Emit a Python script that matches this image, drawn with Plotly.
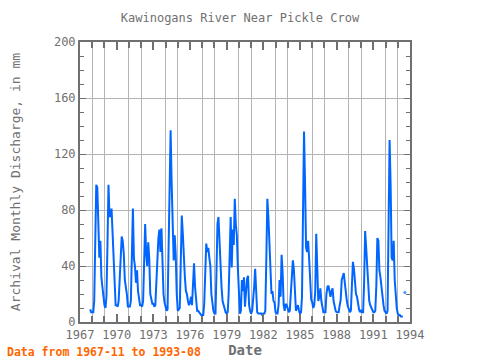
import plotly.graph_objects as go

# Monthly discharge (mm)
start_year = 1967
start_month = 11
v1967 = [9, 7]
v1968 = [7, 7, 15, 61, 98, 96, 75, 46, 58, 32, 25, 18]
v1969 = [12, 10, 18, 55, 98, 75, 76, 81, 61, 45, 22, 12]
v1970 = [12, 11, 15, 30, 51, 61, 58, 49, 30, 25, 20, 11]
v1971 = [11, 11, 15, 50, 81, 45, 40, 28, 37, 22, 15, 12]
v1972 = [12, 11, 15, 39, 70, 49, 40, 57, 45, 20, 15, 13]
v1973 = [13, 11, 12, 30, 45, 60, 66, 50, 67, 40, 20, 14]
v1974 = [11, 8, 9, 55, 119, 137, 100, 67, 44, 62, 48, 20]
v1975 = [8, 9, 10, 44, 76, 63, 44, 32, 22, 20, 15, 12]
v1976 = [14, 18, 12, 28, 42, 25, 12, 8, 8, 7, 6, 5]
v1977 = [5, 5, 13, 37, 56, 50, 53, 46, 40, 20, 13, 8]
v1978 = [6, 6, 34, 70, 75, 53, 37, 25, 15, 12, 9, 7]
v1979 = [6, 7, 20, 49, 75, 39, 66, 55, 88, 70, 62, 39]
v1980 = [13, 6, 8, 30, 22, 32, 11, 20, 31, 33, 12, 8]
v1981 = [6, 8, 15, 25, 38, 20, 7, 6, 6, 6, 6, 5]
v1982 = [6, 6, 8, 46, 88, 75, 53, 30, 20, 22, 15, 14]
v1983 = [7, 6, 6, 12, 30, 18, 48, 35, 12, 8, 13, 12]
v1984 = [10, 7, 8, 20, 30, 44, 38, 18, 8, 10, 12, 8]
v1985 = [6, 7, 18, 78, 136, 98, 53, 50, 58, 45, 25, 16]
v1986 = [14, 10, 12, 22, 63, 42, 15, 18, 24, 15, 10, 7]
v1987 = [7, 7, 20, 25, 26, 22, 18, 22, 24, 15, 11, 8]
v1988 = [7, 7, 7, 12, 16, 30, 32, 35, 28, 20, 15, 11]
v1989 = [8, 7, 8, 22, 43, 38, 28, 20, 18, 12, 9, 7]
v1990 = [8, 7, 7, 28, 65, 53, 37, 25, 15, 12, 10, 8]
v1991 = [7, 7, 8, 26, 60, 58, 37, 32, 25, 15, 12, 8]
v1992 = [7, 6, 8, 70, 130, 98, 46, 44, 58, 30, 15, 10]
v1993 = [6, 5, 5, 4, 4, 4, None, 21]

values = (v1967 + v1968 + v1969 + v1970 + v1971 + v1972 + v1973 + v1974 + v1975
          + v1976 + v1977 + v1978 + v1979 + v1980 + v1981 + v1982 + v1983 + v1984
          + v1985 + v1986 + v1987 + v1988 + v1989 + v1990 + v1991 + v1992 + v1993)

dates = []
y, m = start_year, start_month
for _ in values:
    dates.append(f"{y:04d}-{m:02d}-01")
    m += 1
    if m > 12:
        m = 1
        y += 1

# isolated points get a visible marker
sizes = []
for i, v in enumerate(values):
    prev_ok = i > 0 and values[i - 1] is not None
    next_ok = i < len(values) - 1 and values[i + 1] is not None
    sizes.append(4 if (v is not None and not prev_ok and not next_ok) else 0)

FONT = "DejaVu Sans Mono"
GRAY = "#707070"

fig = go.Figure()
fig.add_trace(go.Scatter(
    x=dates, y=values, mode="lines+markers",
    line=dict(color="#0066ff", width=2),
    marker=dict(size=sizes, color="#0066ff"),
    connectgaps=False, showlegend=False, hoverinfo="skip",
))

fig.update_layout(
    width=480, height=360,
    margin=dict(l=80, r=70, t=42, b=38, autoexpand=False),
    paper_bgcolor="white", plot_bgcolor="white",
    title=dict(text="Kawinogans River Near Pickle Crow", x=0.5, xanchor="center",
               y=1 - 18 / 360, yanchor="middle",
               font=dict(family=FONT, size=12, color=GRAY)),
    font=dict(family=FONT, size=12, color=GRAY),
)
fig.update_xaxes(
    type="date", range=["1967-01-01", "1994-01-01"], automargin=False,
    tick0="1967-01-01", dtick="M36", tickformat="%Y",
    ticks="inside", ticklen=8, tickwidth=2, tickcolor=GRAY,
    showgrid=False, ticklabelstandoff=1,
    minor=dict(dtick="M12", tick0="1967-01-01", showgrid=True, gridcolor="#b4b4b4",
               gridwidth=1, ticks="inside", ticklen=6, tickcolor=GRAY),
    showline=True, linecolor=GRAY, linewidth=2, mirror="allticks",
    tickfont=dict(family=FONT, size=12, color=GRAY),
    title=dict(text="<b>Date</b>", font=dict(family=FONT, size=14, color=GRAY), standoff=0),
    zeroline=False,
)
fig.update_yaxes(
    range=[0, 200], dtick=40, tick0=0, automargin=False,
    ticks="inside", ticklen=6, tickwidth=1, tickcolor=GRAY,
    showgrid=True, gridcolor="#b4b4b4", gridwidth=1,
    minor=dict(dtick=10, ticks="inside", ticklen=4, tickcolor=GRAY, showgrid=False),
    showline=True, linecolor=GRAY, linewidth=2, mirror="allticks",
    tickfont=dict(family=FONT, size=12, color=GRAY),
    title=dict(text="Archival Monthly Discharge, in mm",
               font=dict(family=FONT, size=13, color=GRAY), standoff=30),
    zeroline=False,
)
fig.add_annotation(
    text="<b>Data from 1967-11 to 1993-08</b>", xref="paper", yref="paper",
    x=-75 / 330, y=-30 / 280, xanchor="left", yanchor="middle", showarrow=False,
    font=dict(family=FONT, size=11.5, color="#ff6600"),
)

fig.write_html("out.html", config={"displayModeBar": False},
               post_script="document.body.style.margin='0';")
